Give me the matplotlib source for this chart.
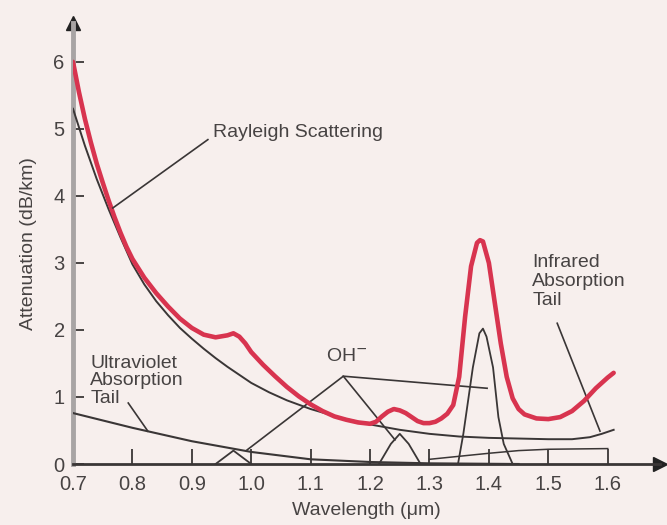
import matplotlib
matplotlib.use("Agg")
import matplotlib.pyplot as plt

plt.rcParams['font.family'] = ['Liberation Sans', 'DejaVu Sans']

# total attenuation (red)
wl_total = [0.70, 0.71, 0.72, 0.73, 0.74, 0.75, 0.76, 0.77, 0.78, 0.79, 0.80, 0.82, 0.84,
            0.86, 0.88, 0.90, 0.92, 0.94, 0.96, 0.97, 0.98, 0.99, 1.00, 1.02, 1.04, 1.06,
            1.08, 1.10, 1.12, 1.14, 1.16, 1.18, 1.20, 1.21, 1.22, 1.23, 1.24, 1.25, 1.26,
            1.27, 1.28, 1.29, 1.30, 1.31, 1.32, 1.33, 1.34, 1.35, 1.36, 1.37, 1.38, 1.385,
            1.39, 1.40, 1.41, 1.42, 1.43, 1.44, 1.45, 1.46, 1.48, 1.50, 1.52, 1.54, 1.56,
            1.58, 1.60, 1.61]
att_total = [6.0, 5.55, 5.15, 4.8, 4.48, 4.2, 3.93, 3.68, 3.45, 3.24, 3.06, 2.78, 2.55,
             2.35, 2.17, 2.03, 1.93, 1.89, 1.92, 1.95, 1.9, 1.8, 1.67, 1.48, 1.31, 1.15,
             1.01, 0.89, 0.79, 0.71, 0.66, 0.62, 0.60, 0.63, 0.71, 0.78, 0.82, 0.80, 0.76,
             0.70, 0.64, 0.61, 0.61, 0.63, 0.68, 0.75, 0.88, 1.3, 2.2, 2.95, 3.3, 3.34,
             3.32, 3.0, 2.4, 1.8, 1.3, 0.98, 0.82, 0.74, 0.68, 0.67, 0.70, 0.79, 0.94,
             1.13, 1.29, 1.36]

# rayleigh scattering (meets the IR tail at the far end)
wl_ray = [0.70, 0.72, 0.74, 0.76, 0.78, 0.80, 0.82, 0.84, 0.86, 0.88, 0.90, 0.92, 0.94,
          0.96, 0.98, 1.00, 1.03, 1.06, 1.10, 1.15, 1.20, 1.25, 1.30, 1.35, 1.40, 1.45,
          1.50, 1.54, 1.57, 1.59, 1.61]
att_ray = [5.3, 4.75, 4.25, 3.8, 3.38, 2.98, 2.68, 2.43, 2.22, 2.03, 1.87, 1.72, 1.58,
           1.45, 1.33, 1.21, 1.07, 0.95, 0.82, 0.69, 0.59, 0.51, 0.45, 0.41, 0.39, 0.38,
           0.37, 0.37, 0.40, 0.45, 0.51]

# ultraviolet absorption tail
wl_uv = [0.70, 0.80, 0.90, 1.00, 1.10, 1.20, 1.30, 1.45]
att_uv = [0.76, 0.54, 0.34, 0.18, 0.07, 0.03, 0.01, 0.0]

# infrared absorption tail (lower line)
wl_ir = [1.30, 1.40, 1.45, 1.50, 1.60]
att_ir = [0.07, 0.16, 0.20, 0.22, 0.23]

# OH- absorption peaks
wl_oh1 = [0.94, 0.97, 1.0]
att_oh1 = [0.0, 0.2, 0.0]
wl_oh2 = [1.215, 1.235, 1.25, 1.265, 1.285]
att_oh2 = [0.0, 0.3, 0.45, 0.3, 0.0]
wl_oh3 = [1.348, 1.357, 1.373, 1.384, 1.39, 1.396, 1.407, 1.416, 1.425, 1.44]
att_oh3 = [0.0, 0.45, 1.44, 1.95, 2.02, 1.9, 1.44, 0.7, 0.3, 0.0]

xticks = [0.7, 0.8, 0.9, 1.0, 1.1, 1.2, 1.3, 1.4, 1.5, 1.6]
xtick_labels = ['0.7', '0.8', '0.9', '1.0', '1.1', '1.2', '1.3', '1.4', '1.5', '1.6']
yticks = [0, 1, 2, 3, 4, 5, 6]

bg = '#f7efed'
ink = '#3a3636'
txt = '#474343'
red = '#d8344f'

fig = plt.figure(figsize=(6.67, 5.25), dpi=100, facecolor=bg)
ax = fig.add_axes([73 / 667, 61 / 525, 587 / 667, 441 / 525])
ax.set_facecolor(bg)
ax.set_xlim(0.7, 1.688)
ax.set_ylim(0, 6.58)

ax.plot(wl_ray, att_ray, color=ink, lw=1.4, zorder=3)
ax.plot(wl_uv, att_uv, color=ink, lw=1.5, zorder=3)
ax.plot(wl_ir, att_ir, color=ink, lw=1.1, zorder=3)
for w, a in [(wl_oh1, att_oh1), (wl_oh2, att_oh2), (wl_oh3, att_oh3)]:
    ax.plot(w, a, color=ink, lw=1.3, zorder=3)
ax.plot(wl_total, att_total, color=red, lw=3.3, solid_capstyle='round',
        solid_joinstyle='round', zorder=4)

# axes
for s in ['top', 'right']:
    ax.spines[s].set_visible(False)
ax.spines['left'].set_color('#a8a4a4')
ax.spines['left'].set_linewidth(3.5)
ax.spines['bottom'].set_color(ink)
ax.spines['bottom'].set_linewidth(2)
ax.plot(1, 0, '>', color='#222', ms=10, transform=ax.transAxes, clip_on=False)
ax.plot(0, 1, '^', color='#222', ms=10, transform=ax.transAxes, clip_on=False)

ax.set_xticks(xticks)
ax.set_xticklabels(xtick_labels)
ax.set_yticks(yticks)
ax.tick_params(direction='in', width=1.3, color=ink, labelsize=14.5, labelcolor=txt)
ax.tick_params(axis='x', length=11, pad=8)
ax.tick_params(axis='y', length=8, pad=6)
ax.set_xlabel('Wavelength (\u03bcm)', fontsize=14, color=txt, labelpad=6)
ax.set_ylabel('Attenuation (dB/km)', fontsize=14, color=txt, labelpad=12)

# annotations
ax.text(0.936, 4.94, 'Rayleigh Scattering', fontsize=14, color=txt, va='center')
ax.plot([0.927, 0.767], [4.84, 3.82], color=ink, lw=1.2, zorder=5)

ax.text(0.729, 1.24, 'Ultraviolet\nAbsorption\nTail', fontsize=14, color=txt,
        va='center', linespacing=1.05)
ax.plot([0.793, 0.826], [0.91, 0.49], color=ink, lw=1.2)

ax.text(1.473, 2.72, 'Infrared\nAbsorption\nTail', fontsize=14, color=txt,
        va='center', linespacing=1.15)
ax.plot([1.515, 1.587], [2.1, 0.49], color=ink, lw=1.2)

ax.text(1.161, 1.60, 'OH$^{-}$', fontsize=14, color=txt, ha='center', va='center')
ax.plot([0.993, 1.155, 1.242], [0.21, 1.31, 0.36], color=ink, lw=1.2)
ax.plot([1.155, 1.397], [1.31, 1.13], color=ink, lw=1.2)

fig.savefig('out.png', dpi=100, facecolor=bg)
